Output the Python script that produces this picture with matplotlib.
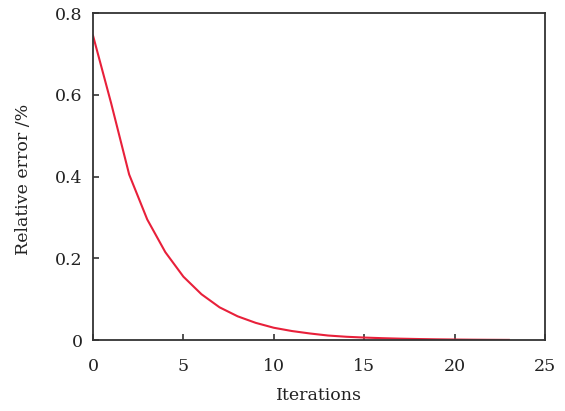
import matplotlib
matplotlib.use("Agg")
import matplotlib.pyplot as plt

iterations = list(range(0, 24))
rel_error = [0.745, 0.58, 0.405, 0.295, 0.215, 0.155, 0.112, 0.080, 0.058, 0.042,
             0.030, 0.022, 0.016, 0.011, 0.008, 0.006, 0.0045, 0.0033, 0.0024,
             0.0017, 0.0012, 0.0008, 0.0005, 0.0003]
xticks = [0, 5, 10, 15, 20, 25]
yticks = [0, 0.2, 0.4, 0.6, 0.8]
ytick_labels = ["0", "0.2", "0.4", "0.6", "0.8"]

plt.rcParams['font.family'] = ['DejaVu Serif', 'Liberation Serif']
fig = plt.figure(figsize=(5.65, 4.11), dpi=100)
ax = fig.add_axes([0.1646, 0.1727, 0.80, 0.7955])
ax.plot(iterations, rel_error, color='#e8203a', lw=1.5)
ax.set_xlim(0, 25)
ax.set_ylim(0, 0.8)
ax.set_xticks(xticks)
ax.set_yticks(yticks)
ax.set_yticklabels(ytick_labels)
ax.tick_params(direction='in', length=4, width=1.2, color='#333333',
               labelsize=12.5, labelcolor='#222222')
ax.tick_params(axis='y', pad=7.5)
ax.tick_params(axis='x', pad=13)
for s in ax.spines.values():
    s.set_color('#333333')
    s.set_linewidth(1.3)
ax.set_xlabel('Iterations', fontsize=12.5, color='#222222')
ax.set_ylabel('Relative error /%', fontsize=12.5, color='#222222')
ax.xaxis.set_label_coords(0.5, -0.145)
ax.yaxis.set_label_coords(-0.135, 0.49)
fig.savefig('out.png', dpi=100)
